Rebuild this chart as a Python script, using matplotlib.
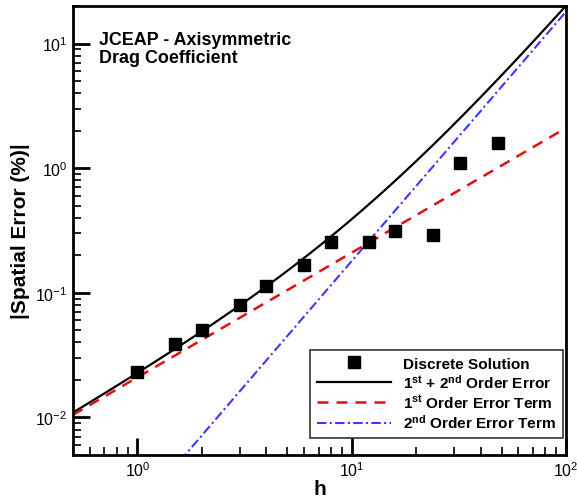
import numpy as np
import matplotlib
matplotlib.use("Agg")
import matplotlib.pyplot as plt

plt.rcParams['font.family'] = ['Liberation Sans', 'DejaVu Sans']
plt.rcParams['mathtext.fontset'] = 'custom'
plt.rcParams['mathtext.rm'] = 'Liberation Sans'
plt.rcParams['mathtext.bf'] = 'Liberation Sans:bold'
plt.rcParams['mathtext.it'] = 'Liberation Sans:italic'
plt.rcParams['axes.unicode_minus'] = False

# Data
h_data = [1, 1.5, 2, 3, 4, 6, 8, 12, 16, 24, 32, 48]
err_data = [0.0233, 0.039, 0.050, 0.080, 0.114, 0.168, 0.255, 0.258, 0.312, 0.29, 1.1, 1.6]
coef_first = 0.021
coef_second = 0.0018

h_line = np.logspace(np.log10(0.5), np.log10(100), 300)
first = coef_first * h_line
second = coef_second * h_line**2
total = first + second

fig = plt.figure(figsize=(5.77, 5.02), dpi=100)
ax = fig.add_axes([73/577, 1-456/502, (566-73)/577, (456-7)/502])

ax.plot(h_data, err_data, 's', color='black', markersize=8.5, label='Discrete Solution', zorder=5)
ax.plot(h_line, total, '-', color='black', lw=1.6, label=r'1$^{\bf st}$ + 2$^{\bf nd}$ Order Error')
ax.plot(h_line, first, '--', color='#e01010', lw=1.8, dashes=(4.4, 3.2), label=r'1$^{\bf st}$ Order Error Term')
ax.plot(h_line, second, '-.', color='#3838ff', lw=1.5, dashes=(4.5, 1.6, 1.0, 1.6), label=r'2$^{\bf nd}$ Order Error Term')

ax.set_xscale('log')
ax.set_yscale('log')
ax.set_xlim(0.5, 100)
ax.set_ylim(0.005, 20)

for s in ax.spines.values():
    s.set_linewidth(2)
ax.tick_params(which='major', direction='in', length=12, width=2, labelsize=11.5, top=False, right=False, pad=4)
ax.tick_params(which='minor', direction='in', length=6, width=1.2, top=False, right=False)

ax.set_xlabel('h', fontsize=15, fontweight='bold', labelpad=0)
ax.set_ylabel('|Spatial Error (%)|', fontsize=15, fontweight='bold', labelpad=4)

ax.text(0.053, 0.945, 'JCEAP - Axisymmetric\nDrag Coefficient', transform=ax.transAxes,
        fontsize=12.9, fontweight='bold', va='top', ha='left', linespacing=1.1)

leg = ax.legend(loc='lower right', bbox_to_anchor=(0.994, 0.038), frameon=True, fancybox=False,
                edgecolor='black', prop={'weight': 'bold', 'size': 11.1}, handlelength=4.8,
                borderpad=0.45, labelspacing=0.15, handletextpad=0.8, borderaxespad=0)
leg.get_frame().set_linewidth(1.2)

fig.savefig('out.png', dpi=100)
